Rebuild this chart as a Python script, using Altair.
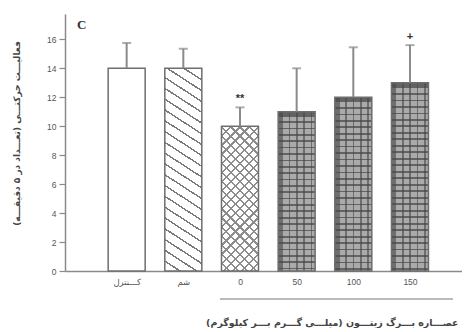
import math
import altair as alt
import pandas as pd

# ---------------- data ----------------
groups = ["کـــنترل", "شم", "0", "50", "100", "150"]
positions = [1, 2, 3, 4, 5, 6]
means = [14, 14, 10, 11, 12, 13]
err_top = [15.75, 15.35, 11.3, 14.0, 15.45, 15.6]
sig_marks = ["", "", "**", "", "", "+"]
y_ticks = [0, 2, 4, 6, 8, 10, 12, 14, 16]
panel_label = ["C"]
y_title = "فعالیـــت حرکتـــی (تعـــداد در ۵ دقیقـــه)"
x_title = "عصـــاره بـــرگ زیتـــون (میلـــی گـــرم بـــر کیلوگرم)"

df = pd.DataFrame({"pos": positions, "group": groups, "mean": means,
                   "err": err_top, "sig": sig_marks})

# ---------------- layout ----------------
W, H = 397, 257
Y_MAX = 17.75
X_MAX = 6.83
PX_PER_UNIT = H / Y_MAX
BAR_W = 37

FONT = "Liberation Sans, DejaVu Sans"
PFONT = "DejaVu Sans"


def hatch(w, h, dx, dy, spacing, base, line, frac):
    """linear-gradient stripes emulating a hatch pattern on a w x h bar"""
    L = math.hypot(dx, dy)
    nx, ny = -dy / L, dx / L
    corners = [(0, 0), (w, 0), (0, h), (w, h)]
    ts = [nx * x + ny * y for x, y in corners]
    tmin, tmax = min(ts), max(ts)
    rng = tmax - tmin
    gx, gy = nx * w / rng, ny * h / rng
    i = ts.index(tmin)
    u1, v1 = corners[i][0] / w, corners[i][1] / h
    g2 = gx * gx + gy * gy
    x2, y2 = u1 + gx / g2, v1 + gy / g2
    n = max(1, round(rng / spacing))
    stops = []
    for k in range(n):
        a, b, c = k / n, (k + frac) / n, (k + 1) / n
        stops += [{"offset": a, "color": line}, {"offset": b, "color": line},
                  {"offset": b, "color": base}, {"offset": c, "color": base}]
    return {"gradient": "linear", "x1": u1, "y1": v1, "x2": x2, "y2": y2,
            "stops": stops}


def stripes(n, line, base, frac, vertical):
    stops = []
    for k in range(n):
        a, b, c = k / n, (k + frac) / n, (k + 1) / n
        stops += [{"offset": a, "color": line}, {"offset": b, "color": line},
                  {"offset": b, "color": base}, {"offset": c, "color": base}]
    if vertical:
        return {"gradient": "linear", "x1": 0.08, "y1": 0, "x2": 1.08, "y2": 0, "stops": stops}
    return {"gradient": "linear", "x1": 0, "y1": 0.02, "x2": 0, "y2": 1.02, "stops": stops}


x_axis = alt.Axis(values=positions,
                  labelExpr="[" + ",".join("'%s'" % g for g in groups) + "][datum.value-1]",
                  ticks=False, labelPadding=6, labelFontSize=8.5, labelColor="#555",
                  labelFont=FONT, domainColor="#8a8a8a", domainWidth=1.5, grid=False,
                  title=x_title, titleFont=PFONT, titleFontSize=9.5, titleFontWeight="bold",
                  titleColor="#444", titleX=393, titleY=51, titleAlign="right",
                  titleBaseline="middle")
y_axis = alt.Axis(values=y_ticks, tickSize=6, tickColor="#8a8a8a", tickWidth=1.2,
                  labelPadding=3, labelFontSize=8.5, labelColor="#555", labelFont=FONT,
                  domainColor="#8a8a8a", domainWidth=1.5, grid=False,
                  title=y_title, titleFont=PFONT, titleFontSize=9, titleFontWeight="bold",
                  titleColor="#444", titleX=-44, titleY=119)

X = alt.X("pos:Q", scale=alt.Scale(domain=[0, X_MAX], nice=False, zero=False), axis=x_axis)
Y = alt.Y("mean:Q", scale=alt.Scale(domain=[0, Y_MAX], nice=False), axis=y_axis)

base = alt.Chart(df)
layers = []

for p, m in zip(positions, means):
    h = m * PX_PER_UNIT
    sel = base.transform_filter(alt.datum.pos == p)
    if p == 1:
        fills = ["white"]
    elif p == 2:
        fills = [hatch(BAR_W, h, 1, 0.65, 9.2, "white", "#7a7a7a", 0.16)]
    elif p == 3:
        fills = [hatch(BAR_W, h, 1, 1, 6.4, "white", "#8c8c8c", 0.24),
                 hatch(BAR_W, h, 1, -1, 6.4, "rgba(255,255,255,0)", "#8c8c8c", 0.24)]
    else:
        nh = max(1, round(h / 6.5))
        fills = [stripes(nh, "#636363", "#aaaaaa", 0.26, False),
                 stripes(5, "rgba(70,70,70,0.6)", "rgba(70,70,70,0)", 0.24, True)]
    for f in fills:
        layers.append(sel.mark_bar(size=BAR_W, fill=f, strokeWidth=0).encode(x=X, y=Y))

# outlines
layers.append(base.mark_bar(size=BAR_W, fill="transparent", stroke="#6e6e6e",
                            strokeWidth=1.5).encode(x=X, y=Y))

# error bars
layers.append(base.mark_rule(color="#8a8a8a", strokeWidth=2).encode(
    x=X, y=Y, y2="err:Q"))
layers.append(base.mark_tick(orient="horizontal", size=9, thickness=2, color="#8a8a8a").encode(
    x=X, y=alt.Y("err:Q", scale=alt.Scale(domain=[0, Y_MAX], nice=False), axis=y_axis)))

# significance marks
layers.append(base.mark_text(fontSize=11, fontWeight="bold", color="#333", font=FONT,
                             baseline="middle", dy=-8).encode(
    x=X, y=alt.Y("err:Q", scale=alt.Scale(domain=[0, Y_MAX], nice=False), axis=y_axis),
    text="sig:N"))

# panel label
layers.append(alt.Chart(pd.DataFrame({"t": panel_label})).mark_text(
    font="Liberation Serif", fontWeight="bold", fontSize=13, align="left",
    baseline="middle", color="#333").encode(
    x=alt.value(12), y=alt.value(11), text="t:N"))

# bracket under dose groups
layers.append(alt.Chart(pd.DataFrame({"t": panel_label})).mark_rule(
    color="#777", strokeWidth=1).encode(
    x=alt.value(155), x2=alt.value(388), y=alt.value(285)))

chart = alt.layer(*layers).properties(
    width=W, height=H,
    padding={"left": 57, "top": 6, "right": 0, "bottom": 57},
    autosize=alt.AutoSizeParams(type="none"),
).configure_view(stroke=None)

chart.save("out.html", embed_options={"renderer": "svg", "actions": False})
